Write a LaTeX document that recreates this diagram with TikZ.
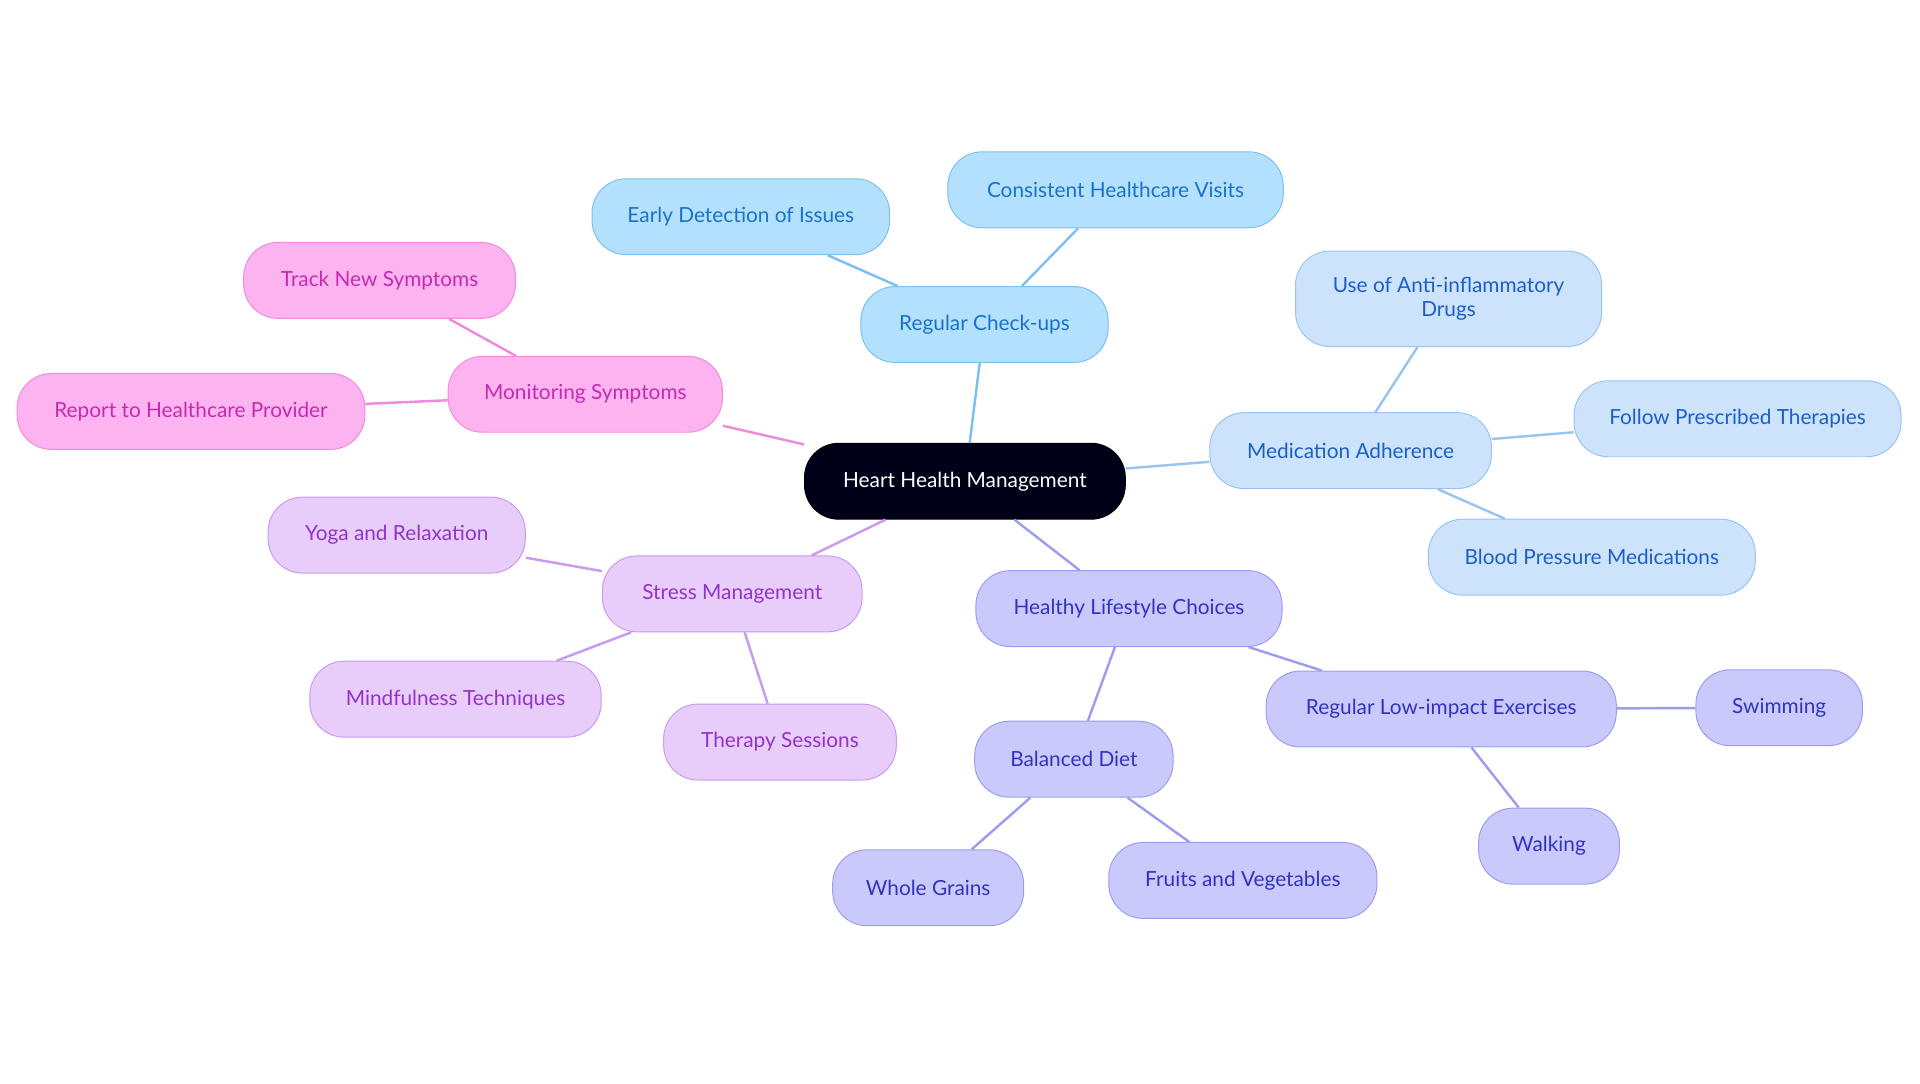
\documentclass[tikz,border=0pt]{standalone}
\usepackage{fontspec}
\setmainfont{Lato}
\usetikzlibrary{positioning}
\definecolor{blueFill}{HTML}{B3E0FD}\definecolor{blueLine}{HTML}{7CC0F0}\definecolor{blueText}{HTML}{1A73C8}
\definecolor{skyFill}{HTML}{CDE3FB}\definecolor{skyLine}{HTML}{98C4F0}\definecolor{skyText}{HTML}{1B5FC8}
\definecolor{indFill}{HTML}{C9C9FB}\definecolor{indLine}{HTML}{9D9DF0}\definecolor{indText}{HTML}{3333C0}
\definecolor{lavFill}{HTML}{E8CCFA}\definecolor{lavLine}{HTML}{C99AF0}\definecolor{lavText}{HTML}{9333C9}
\definecolor{pinkFill}{HTML}{FDB3F0}\definecolor{pinkLine}{HTML}{F08ADB}\definecolor{pinkText}{HTML}{C42BB0}
\tikzset{
  box/.style={rounded corners=28pt, minimum height=62pt, align=center, line width=0.8pt,
    font=\fontsize{17}{19}\selectfont},
  root/.style={box, fill=black!90!blue, draw=black, text=white},
  chk/.style={box, fill=blueFill, draw=blueLine, text=blueText},
  med/.style={box, fill=skyFill, draw=skyLine, text=skyText},
  life/.style={box, fill=indFill, draw=indLine, text=indText},
  calm/.style={box, fill=lavFill, draw=lavLine, text=lavText},
  mon/.style={box, fill=pinkFill, draw=pinkLine, text=pinkText},
  link/.style={line width=2pt}
}
\begin{document}
\begin{tikzpicture}[x=1pt, y=-1pt]
\useasboundingbox (0,0) rectangle (1568,884.5);

\node (root) [root, minimum width=262pt] at (788,393) {Heart Health Management};

\node (checkups) [chk, minimum width=202pt] at (804,265) {Regular Check-ups};
\node (early) [chk, minimum width=243pt] at (605,177) {Early Detection of Issues};
\node (visits) [chk, minimum width=274pt] at (911,155) {Consistent Healthcare Visits};

\node (meds) [med, minimum width=230pt] at (1103,368) {Medication Adherence};
\node (antiinf) [med, minimum width=250pt, minimum height=78pt] at (1183,244) {Use of Anti-inflammatory\\Drugs};
\node (follow) [med, minimum width=267pt] at (1419,342) {Follow Prescribed Therapies};
\node (bpmeds) [med, minimum width=267pt] at (1300,455) {Blood Pressure Medications};

\node (lifestyle) [life, minimum width=250pt] at (922,497) {Healthy Lifestyle Choices};
\node (exercise) [life, minimum width=286pt] at (1177,579) {Regular Low-impact Exercises};
\node (swim) [life, minimum width=136pt] at (1453,578) {Swimming};
\node (walk) [life, minimum width=115pt] at (1265,691) {Walking};
\node (diet) [life, minimum width=162pt] at (877,620) {Balanced Diet};
\node (grains) [life, minimum width=156pt] at (758,725) {Whole Grains};
\node (fruit) [life, minimum width=219pt] at (1015,719) {Fruits and Vegetables};

\node (stress) [calm, minimum width=212pt] at (598,485) {Stress Management};
\node (yoga) [calm, minimum width=210pt] at (324,437) {Yoga and Relaxation};
\node (mind) [calm, minimum width=238pt] at (372,571) {Mindfulness Techniques};
\node (therapy) [calm, minimum width=190pt] at (637,606) {Therapy Sessions};

\node (monitor) [mon, minimum width=224pt] at (478,322) {Monitoring Symptoms};
\node (track) [mon, minimum width=222pt] at (310,229) {Track New Symptoms};
\node (report) [mon, minimum width=284pt] at (156,336) {Report to Healthcare Provider};

\draw[link, blueLine] (root) -- (checkups) (checkups) -- (early) (checkups) -- (visits);
\draw[link, skyLine] (root) -- (meds) (meds) -- (antiinf) (meds) -- (follow) (meds) -- (bpmeds);
\draw[link, indLine] (root) -- (lifestyle) (lifestyle) -- (exercise) (exercise) -- (swim)
  (exercise) -- (walk) (lifestyle) -- (diet) (diet) -- (grains) (diet) -- (fruit);
\draw[link, lavLine] (root) -- (stress) (stress) -- (yoga) (stress) -- (mind) (stress) -- (therapy);
\draw[link, pinkLine] (root) -- (monitor) (monitor) -- (track) (monitor) -- (report);
\end{tikzpicture}
\end{document}
